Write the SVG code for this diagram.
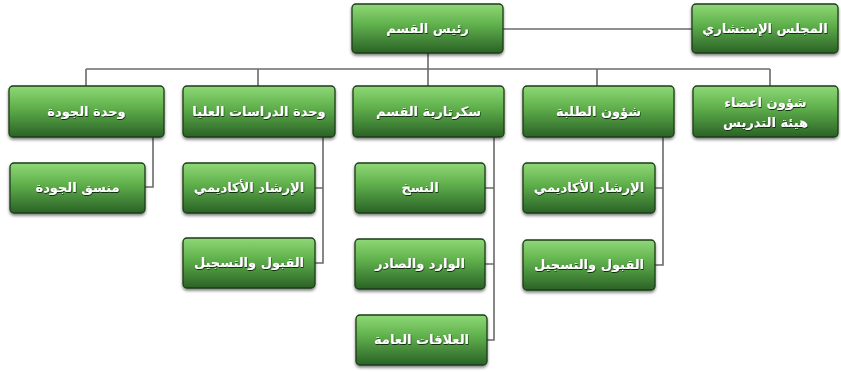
<svg xmlns="http://www.w3.org/2000/svg" width="841" height="372" viewBox="0 0 841 372">
<defs>
<linearGradient id="g" x1="0" y1="0" x2="0" y2="1">
<stop offset="0" stop-color="#8fd877"/>
<stop offset="0.4" stop-color="#62b34e"/>
<stop offset="1" stop-color="#2a6226"/>
</linearGradient>
<filter id="sh" x="-10%" y="-10%" width="120%" height="130%">
<feDropShadow dx="0" dy="2" stdDeviation="1.5" flood-color="#000" flood-opacity="0.5"/>
</filter>
<filter id="ts" x="-10%" y="-30%" width="120%" height="160%">
<feDropShadow dx="0.5" dy="1" stdDeviation="0.6" flood-color="#0a2308" flood-opacity="0.95"/>
</filter>
</defs>
<style>
.box{fill:url(#g);stroke:#1b3d17;stroke-width:1.3;filter:url(#sh)}
.t{font-family:"DejaVu Sans",sans-serif;font-size:13px;font-weight:bold;fill:#ffffff;text-anchor:middle;filter:url(#ts)}
.c{fill:none;stroke:#6a6a6a;stroke-width:1.6}
</style>
<rect width="841" height="372" fill="#ffffff"/>
<g id="connectors">
<path class="c" d="M503 29H692"/>
<path class="c" d="M428 53V69"/>
<path class="c" d="M86 69H770"/>
<path class="c" d="M86 69V86M258 69V86M428 69V86M597 69V86M770 69V86"/>
<path class="c" d="M153 137V187H145"/>
<path class="c" d="M323 137V263H315M323 188H315"/>
<path class="c" d="M494 137V340H487M494 188H485M494 264H485"/>
<path class="c" d="M663 137V265H655M663 188H655"/>
</g>
<g id="n-head"><rect class="box" x="352" y="4" width="151" height="49" rx="4"/><text class="t" x="427.5" y="33">رئيس القسم</text></g>
<g id="n-council"><rect class="box" x="692" y="4" width="146" height="49" rx="4"/><text class="t" x="765" y="33">المجلس الإستشاري</text></g>
<g id="n-quality"><rect class="box" x="9" y="86" width="155" height="51" rx="4"/><text class="t" x="86.5" y="116">وحدة الجودة</text></g>
<g id="n-grad"><rect class="box" x="183" y="86" width="152" height="51" rx="4"/><text class="t" x="259" y="116">وحدة الدراسات العليا</text></g>
<g id="n-secr"><rect class="box" x="353" y="86" width="151" height="51" rx="4"/><text class="t" x="428.5" y="116">سكرتارية القسم</text></g>
<g id="n-students"><rect class="box" x="523" y="86" width="151" height="51" rx="4"/><text class="t" x="598.5" y="116">شؤون الطلبة</text></g>
<g id="n-faculty"><rect class="box" x="693" y="86" width="145" height="51" rx="4"/><text class="t" x="765.5" y="107">شؤون اعضاء</text><text class="t" x="765.5" y="127">هيئة التدريس</text></g>
<g id="n-qcoord"><rect class="box" x="10" y="163" width="135" height="50" rx="4"/><text class="t" x="77.5" y="192">منسق الجودة</text></g>
<g id="n-advise1"><rect class="box" x="183" y="163" width="132" height="50" rx="4"/><text class="t" x="249" y="192">الإرشاد الأكاديمي</text></g>
<g id="n-admit1"><rect class="box" x="183" y="238" width="132" height="50" rx="4"/><text class="t" x="249" y="267">القبول والتسجيل</text></g>
<g id="n-copy"><rect class="box" x="355" y="163" width="130" height="50" rx="4"/><text class="t" x="420" y="192">النسخ</text></g>
<g id="n-inout"><rect class="box" x="355" y="239" width="130" height="50" rx="4"/><text class="t" x="420" y="268">الوارد والصادر</text></g>
<g id="n-pr"><rect class="box" x="356" y="315" width="131" height="50" rx="4"/><text class="t" x="421.5" y="344">العلاقات العامة</text></g>
<g id="n-advise2"><rect class="box" x="523" y="163" width="132" height="50" rx="4"/><text class="t" x="589" y="192">الإرشاد الأكاديمي</text></g>
<g id="n-admit2"><rect class="box" x="523" y="240" width="132" height="50" rx="4"/><text class="t" x="589" y="269">القبول والتسجيل</text></g>
</svg>
